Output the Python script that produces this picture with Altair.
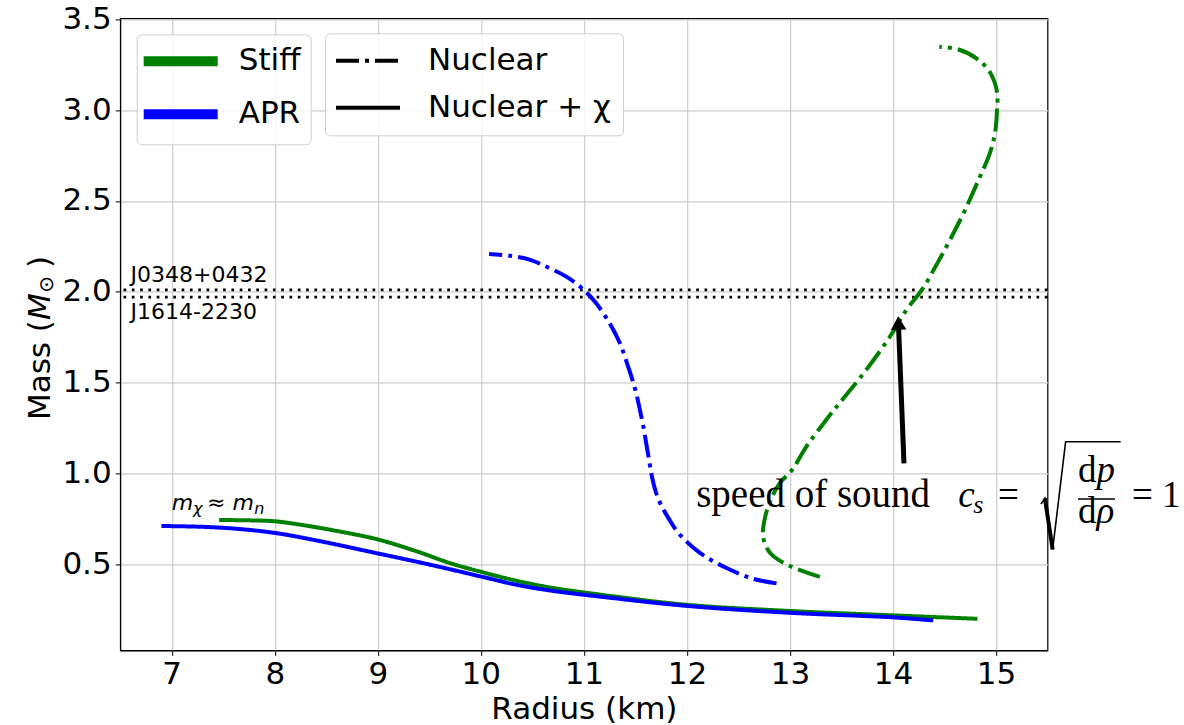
import altair as alt
import pandas as pd

# ---------------- data ----------------
# Stiff EOS, nuclear only (green dash-dot)
stiff_nuc_r = [13.29, 13.00, 12.81, 12.74, 12.76, 12.82, 12.90, 13.02, 13.16, 13.36, 13.52, 13.74,
               13.97, 14.13, 14.28, 14.43, 14.57, 14.70, 14.83, 14.94, 14.99, 15.01, 15.01, 14.94,
               14.81, 14.63, 14.45]
stiff_nuc_m = [0.43, 0.49, 0.56, 0.65, 0.76, 0.862, 0.945, 1.018, 1.147, 1.30, 1.413, 1.569,
               1.752, 1.899, 2.01, 2.156, 2.303, 2.45, 2.615, 2.762, 2.872, 3.00, 3.10, 3.21,
               3.285, 3.335, 3.349]
# APR EOS, nuclear only (blue dash-dot)
apr_nuc_r = [12.87, 12.64, 12.39, 12.13, 11.92, 11.83, 11.75, 11.70, 11.665, 11.64, 11.61, 11.58,
             11.54, 11.50, 11.43, 11.35, 11.25, 11.12, 11.00, 10.83, 10.67, 10.48, 10.28, 10.08]
apr_nuc_m = [0.394, 0.42, 0.477, 0.56, 0.67, 0.745, 0.825, 0.895, 0.97, 1.05, 1.15, 1.25,
             1.36, 1.459, 1.587, 1.716, 1.826, 1.936, 2.01, 2.083, 2.129, 2.175, 2.198, 2.208]
# Stiff EOS, nuclear + chi (green solid)
stiff_chi_r = [7.46, 7.76, 8.00, 8.25, 8.57, 9.00, 9.38, 9.70, 10.00, 10.35, 10.67, 11.16,
               12.00, 13.00, 14.00, 14.82]
stiff_chi_m = [0.743, 0.741, 0.736, 0.717, 0.686, 0.636, 0.570, 0.506, 0.458, 0.408, 0.372, 0.332,
               0.276, 0.242, 0.218, 0.199]
# APR EOS, nuclear + chi (blue solid)
apr_chi_r = [6.90, 7.27, 7.60, 8.00, 8.40, 9.00, 9.38, 9.70, 10.00, 10.35, 10.67, 11.16,
             12.00, 13.00, 14.00, 14.39]
apr_chi_m = [0.710, 0.706, 0.696, 0.672, 0.631, 0.559, 0.513, 0.472, 0.432, 0.386, 0.355, 0.321,
             0.270, 0.232, 0.207, 0.190]

eos_names = ["Stiff", "APR"]
eos_colors = ["#008000", "#0000ff"]
model_names = ["Nuclear", "Nuclear + χ"]
model_dashes = [[23, 6, 4, 6], [1, 0]]

pulsar_names = ["J0348+0432", "J1614-2230"]
pulsar_mass = [2.01, 1.97]
pulsar_label_r = [6.6, 6.6]
pulsar_label_m = [2.052, 1.849]

x_ticks = [7, 8, 9, 10, 11, 12, 13, 14, 15]
y_ticks = [0.5, 1.0, 1.5, 2.0, 2.5, 3.0, 3.5]

# y-axis title pieces: "Mass (" M_sun ")"
ytitle_roman = ["Mass (", ")"]
ytitle_roman_r = [5.819, 5.819]
ytitle_roman_m = [1.2935, 2.13]
ytitle_italic = ["M"]
ytitle_italic_r = [5.819]
ytitle_italic_m = [1.844]
ytitle_sub = ["⊙"]
ytitle_sub_r = [5.85]
ytitle_sub_m = [1.995]

# annotation "m_chi ~ m_n"
mchi_text = ["m", "≈ m"]
mchi_r = [7.0, 7.343]
mchi_m = [0.798, 0.798]
mchi_sub_text = ["χ", "n"]
mchi_sub_r = [7.207, 7.80]
mchi_sub_m = [0.776, 0.776]

# arrow
arrow_tail = (14.107, 1.055)
arrow_base = (14.055, 1.80)
arrow_head = (14.053, 1.828)

# speed-of-sound formula pieces
roman_text = ["speed of sound", "=", "d", "d", "= 1"]
roman_r = [12.09, 15.02, 15.796, 15.796, 16.32]
roman_m = [0.816, 0.816, 0.954, 0.725, 0.816]
roman_size = [39, 37, 37, 37, 37]
italic_text = ["c", "p", "ρ"]
italic_r = [14.634, 15.975, 15.975]
italic_m = [0.816, 0.954, 0.725]
sub_text = ["s"]
sub_r = [14.78]
sub_m = [0.78]
frac_bar = (15.796, 16.155, 0.858)
radical_r = [15.437, 15.475, 15.550, 15.676, 16.210]
radical_m = [0.831, 0.862, 0.581, 1.174, 1.174]

# ---------------- build tables ----------------
rows = []
for cid, (r, m, eos, model) in enumerate([
        (stiff_nuc_r, stiff_nuc_m, "Stiff", "Nuclear"),
        (apr_nuc_r, apr_nuc_m, "APR", "Nuclear"),
        (stiff_chi_r, stiff_chi_m, "Stiff", "Nuclear + χ"),
        (apr_chi_r, apr_chi_m, "APR", "Nuclear + χ")]):
    for i, (rr, mm) in enumerate(zip(r, m)):
        rows.append({"R": rr, "M": mm, "eos": eos, "model": model, "curve": cid, "i": i})
curves = pd.DataFrame(rows)

FONT = "DejaVu Sans"
SERIF = "Liberation Serif"

xs = alt.Scale(domain=[6.5, 15.5], nice=False, zero=False)
ys = alt.Scale(domain=[0.025, 3.505], nice=False, zero=False)

legend_common = dict(orient="none", title=None, direction="vertical",
                     labelFont=FONT, labelFontSize=31, labelColor="black", labelLimit=500,
                     labelExpr="datum.label + '\u2009'",
                     fillColor="rgba(255,255,255,0.8)", strokeColor="#d0d0d0",
                     cornerRadius=5, symbolSize=576)

lines = alt.Chart(curves).mark_line(strokeWidth=4, interpolate="catmull-rom").encode(
    x=alt.X("R:Q", scale=xs, axis=alt.Axis(values=x_ticks, title="Radius (km)", format="d",
                                           titlePadding=5)),
    y=alt.Y("M:Q", scale=ys, axis=alt.Axis(values=y_ticks, title=None, format=".1f")),
    color=alt.Color("eos:N", scale=alt.Scale(domain=eos_names, range=eos_colors),
                    legend=alt.Legend(legendX=16.5, legendY=15.9, symbolType="M-1.6667,0H4.5",
                                      symbolStrokeWidth=10, padding=10, rowPadding=13,
                                      labelOffset=58, **legend_common)),
    strokeDash=alt.StrokeDash("model:N", scale=alt.Scale(domain=model_names, range=model_dashes),
                              legend=alt.Legend(legendX=204.8, legendY=14.9,
                                                symbolType="M-1.375,0H3.9583",
                                                symbolStrokeWidth=4, symbolStrokeColor="black",
                                                padding=12, rowPadding=15, labelOffset=60,
                                                **legend_common)),
    detail="curve:N",
    order="i:Q",
)

pulsars = pd.DataFrame({"name": pulsar_names, "M": pulsar_mass,
                        "lr": pulsar_label_r, "lm": pulsar_label_m})
pulsar_lines = alt.Chart(pulsars).mark_rule(color="black", strokeWidth=2.7,
                                            strokeDash=[2.7, 5.6]).encode(y=alt.Y("M:Q", scale=ys))
pulsar_text = alt.Chart(pulsars).mark_text(align="left", baseline="alphabetic", font=FONT,
                                           fontSize=22, color="black").encode(
    x=alt.X("lr:Q", scale=xs), y=alt.Y("lm:Q", scale=ys), text="name:N")


def text_layer(texts, rs, ms, **kw):
    df = pd.DataFrame({"t": texts, "r": rs, "m": ms})
    return alt.Chart(df).mark_text(align="left", baseline="alphabetic", color="black", **kw).encode(
        x=alt.X("r:Q", scale=xs), y=alt.Y("m:Q", scale=ys), text="t:N")


yt1 = text_layer(ytitle_roman, ytitle_roman_r, ytitle_roman_m, font=FONT, fontSize=31, angle=270)
yt2 = text_layer(ytitle_italic, ytitle_italic_r, ytitle_italic_m, font=FONT, fontSize=31,
                 fontStyle="italic", angle=270)
yt3 = text_layer(ytitle_sub, ytitle_sub_r, ytitle_sub_m, font=FONT, fontSize=20, angle=270)

mchi = text_layer(mchi_text, mchi_r, mchi_m, font=FONT, fontSize=22, fontStyle="italic")
mchi_sub = text_layer(mchi_sub_text, mchi_sub_r, mchi_sub_m, font=FONT, fontSize=16,
                      fontStyle="italic")

arrow_df = pd.DataFrame({"r": [arrow_tail[0]], "m": [arrow_tail[1]],
                         "r2": [arrow_base[0]], "m2": [arrow_base[1]],
                         "hr": [arrow_head[0]], "hm": [arrow_head[1]]})
arrow_shaft = alt.Chart(arrow_df).mark_rule(color="black", strokeWidth=5).encode(
    x=alt.X("r:Q", scale=xs), y=alt.Y("m:Q", scale=ys), x2="r2:Q", y2="m2:Q")
arrow_tip = alt.Chart(arrow_df).mark_point(shape="triangle-up", filled=True, color="black",
                                           size=240, opacity=1, angle=358).encode(
    x=alt.X("hr:Q", scale=xs), y=alt.Y("hm:Q", scale=ys))

roman_df = pd.DataFrame({"t": roman_text, "r": roman_r, "m": roman_m, "s": roman_size})
roman = alt.Chart(roman_df).mark_text(align="left", baseline="alphabetic", font=SERIF,
                                      color="black").encode(
    x=alt.X("r:Q", scale=xs), y=alt.Y("m:Q", scale=ys), text="t:N",
    size=alt.Size("s:Q", scale=None))
italic = text_layer(italic_text, italic_r, italic_m, font=SERIF, fontSize=37, fontStyle="italic")
sub = text_layer(sub_text, sub_r, sub_m, font=SERIF, fontSize=26, fontStyle="italic")
bar_df = pd.DataFrame({"r": [frac_bar[0]], "r2": [frac_bar[1]], "m": [frac_bar[2]]})
bar = alt.Chart(bar_df).mark_rule(color="black", strokeWidth=1.5).encode(
    x=alt.X("r:Q", scale=xs), x2="r2:Q", y=alt.Y("m:Q", scale=ys))
rad_df = pd.DataFrame({"r": radical_r, "m": radical_m, "i": list(range(len(radical_r)))})
radical = alt.Chart(rad_df).mark_line(color="black", strokeWidth=1.6).encode(
    x=alt.X("r:Q", scale=xs), y=alt.Y("m:Q", scale=ys), order="i:Q")
rad_thick_df = rad_df.iloc[1:3].reset_index(drop=True)
radical_thick = alt.Chart(rad_thick_df).mark_line(color="black", strokeWidth=4).encode(
    x=alt.X("r:Q", scale=xs), y=alt.Y("m:Q", scale=ys), order="i:Q")

chart = alt.layer(
    pulsar_lines, lines, pulsar_text, yt1, yt2, yt3, mchi, mchi_sub, arrow_shaft, arrow_tip,
    roman, italic, sub, bar, radical, radical_thick
).properties(
    width=927.3, height=632,
    autosize=alt.AutoSizeParams(type="none"),
    padding={"left": 120.2, "top": 18.4, "right": 136.5, "bottom": 74.6},
    background="white",
).configure_axis(
    labelFont=FONT, labelFontSize=31, labelColor="black",
    titleFont=FONT, titleFontSize=31, titleFontWeight="normal", titleColor="black",
    domainColor="black", domainWidth=1, tickColor="black", tickSize=5, tickWidth=1,
    gridColor="#cccccc", gridWidth=1.2, labelPadding=4,
).configure_view(stroke="black", strokeWidth=1.2)

chart.save("out.html", embed_options={"renderer": "svg", "actions": False})
